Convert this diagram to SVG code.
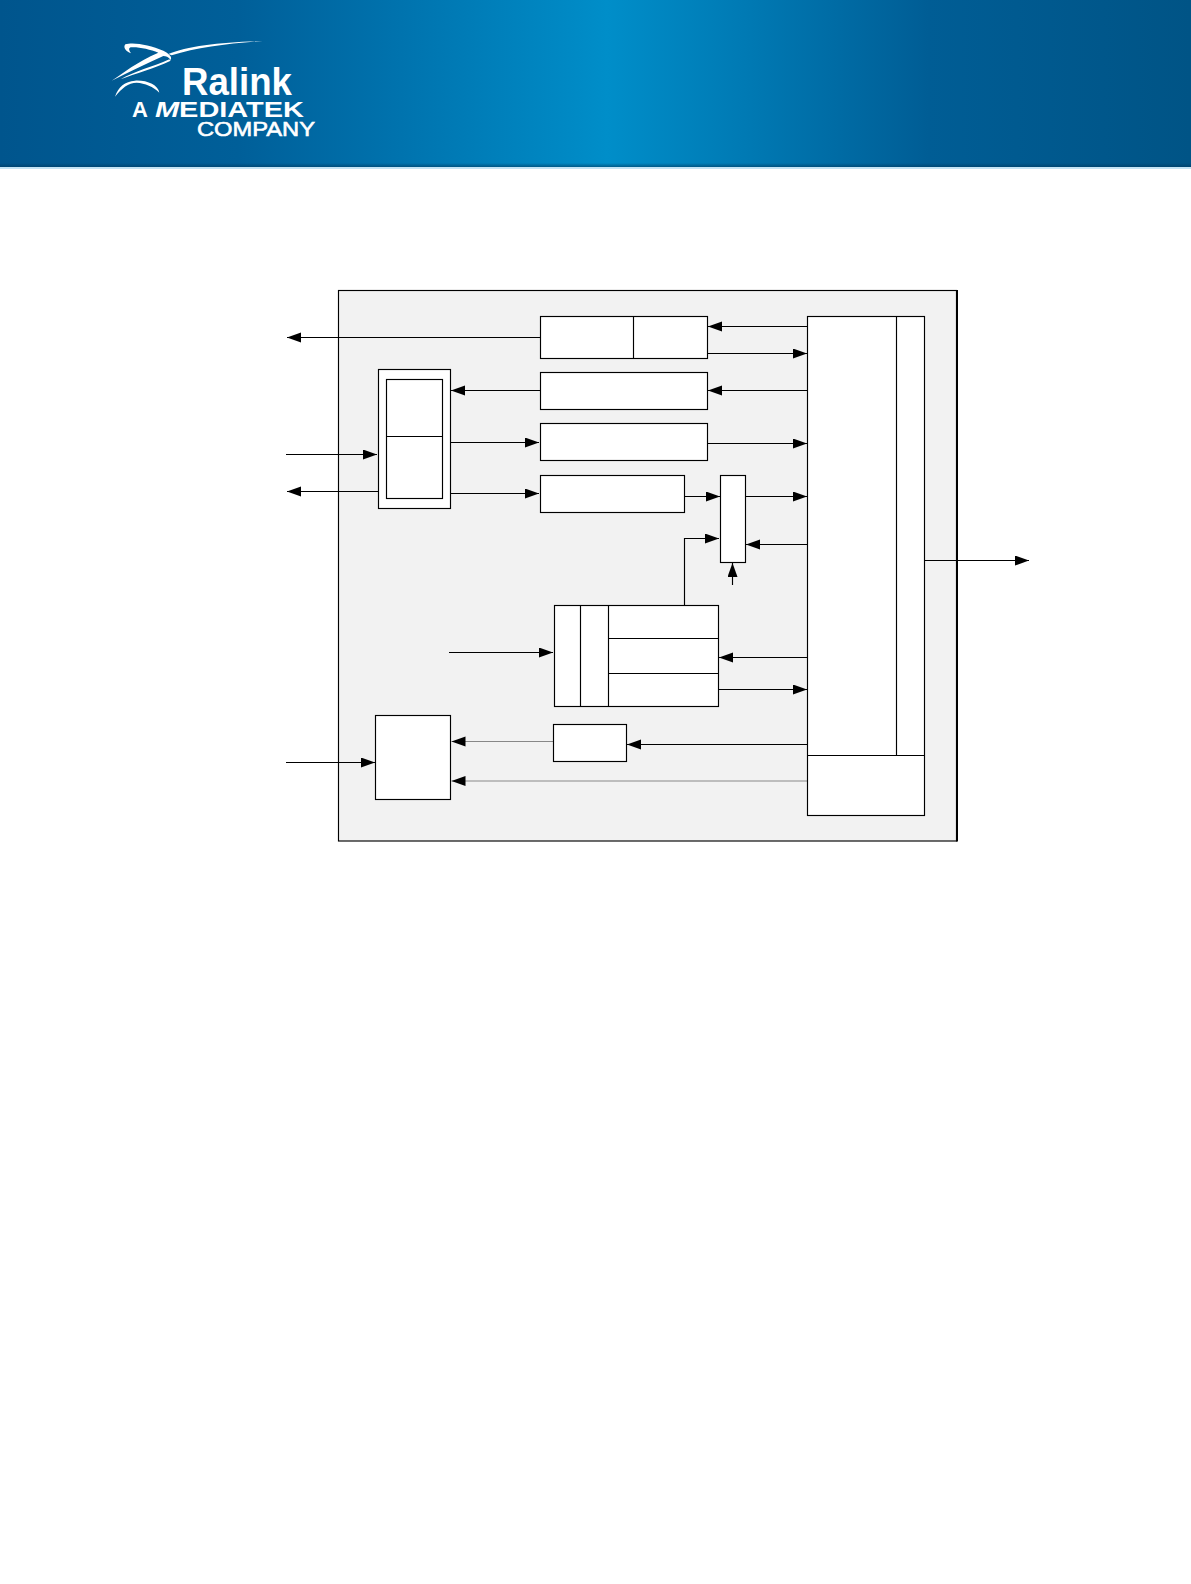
<svg xmlns="http://www.w3.org/2000/svg" width="1191" height="1584" viewBox="0 0 1191 1584">
<style>
.box{fill:#fff;stroke:#000;stroke-width:1.15}
.div{fill:none;stroke:#000;stroke-width:1.15}
.c{fill:none;stroke:#000;stroke-width:1.15;marker-end:url(#ah)}
.g{fill:none;stroke:#888;stroke-width:1.15;marker-end:url(#ah)}
.logo{fill:#fff;font-family:"Liberation Sans",Arial,sans-serif;font-weight:700}
</style>
<defs>
<marker id="ah" markerUnits="userSpaceOnUse" markerWidth="15" markerHeight="11" refX="14" refY="5" orient="auto"><path d="M0,0L14,5L0,10Z" fill="#000"/></marker>
<linearGradient id="hdr" x1="0" x2="1" y1="0" y2="0">
<stop offset="0" stop-color="#00558d"/><stop offset=".2" stop-color="#005f99"/><stop offset=".33" stop-color="#0072ad"/><stop offset=".51" stop-color="#008ec9"/><stop offset=".63" stop-color="#0079b3"/><stop offset=".78" stop-color="#005d95"/><stop offset="1" stop-color="#005486"/>
</linearGradient>
<linearGradient id="edge" x1="0" x2="0" y1="0" y2="1"><stop offset="0" stop-color="#003a60" stop-opacity="0"/><stop offset="1" stop-color="#003a60" stop-opacity=".6"/></linearGradient>
</defs>
<g id="header">
<rect x="0" y="0" width="1191" height="167" fill="url(#hdr)"/>
<rect x="0" y="163" width="1191" height="4" fill="url(#edge)"/>
<rect x="0" y="167" width="1191" height="2" fill="#c4e4f5"/>
</g>
<g id="logo">
<g transform="translate(100,30) scale(.3333)" fill="#fff">
<path d="M35,152C70,130 110,95 175,68C150,58 115,50 92,52C84,55 88,63 93,70C78,65 68,52 76,43C100,35 150,45 190,62C205,70 218,80 212,90C205,80 198,78 190,78C140,100 90,125 35,152Z"/>
<path d="M205,72C260,48 370,36 488,33C390,40 290,52 215,76Z"/>
<path d="M62,148C100,125 160,110 208,88L212,92C165,115 105,130 62,148Z"/>
<path d="M45,200C55,170 75,155 105,152C140,150 175,165 178,188C160,170 135,160 110,158C85,158 65,175 45,200Z"/>
</g>
<text class="logo" x="182" y="95" font-size="39" textLength="110" lengthAdjust="spacingAndGlyphs">Ralink</text>
<text class="logo" x="132" y="117" font-size="22">A</text>
<text class="logo" x="155" y="117" font-size="22" textLength="149" lengthAdjust="spacingAndGlyphs"><tspan font-style="italic">M</tspan>EDIATEK</text>
<text class="logo" x="197" y="136" font-size="21" textLength="118" lengthAdjust="spacingAndGlyphs" style="font-weight:400;stroke:#fff;stroke-width:.6">COMPANY</text>
</g>
<g id="chip"><rect x="338.5" y="290.5" width="618" height="550.5" fill="#f2f2f2" stroke="#000" stroke-width="1.15"/><path d="M957,290V841.5" stroke="#000" stroke-width="2" fill="none"/></g>
<g id="connectors">
<path class="c" d="M540,337.5H287"/>
<path class="c" d="M807,326.5H708"/>
<path class="c" d="M707.5,353.5H807"/>
<path class="c" d="M807,390.5H708"/>
<path class="c" d="M540,390.5H451"/>
<path class="c" d="M450.5,442.5H539"/>
<path class="c" d="M707.5,443.5H807"/>
<path class="c" d="M286,454.5H377"/>
<path class="c" d="M378,491.5H287"/>
<path class="c" d="M450.5,493.5H539"/>
<path class="c" d="M684.5,496.5H720"/>
<path class="c" d="M745.5,496.5H807"/>
<path class="c" d="M807,544.5H746"/>
<path class="c" d="M684.5,605V538.5H719"/>
<path class="c" d="M732.5,585V563"/>
<path class="c" d="M924.5,560.5H1029"/>
<path class="c" d="M449,652.5H553"/>
<path class="c" d="M807,657.5H719"/>
<path class="c" d="M718.5,689.5H807"/>
<path class="c" d="M807,744.5H627"/>
<path class="g" d="M553,741.5H451.5"/>
<path class="g" d="M807,781H451.5"/>
<path class="c" d="M286,762.5H375"/>
</g>
<g id="node-a"><rect class="box" x="540.5" y="316.5" width="167" height="42"/><path class="div" d="M633.5,316.5V358.5"/></g>
<g id="node-b"><rect class="box" x="540.5" y="372.5" width="167" height="37"/></g>
<g id="node-c"><rect class="box" x="540.5" y="423.5" width="167" height="37"/></g>
<g id="node-d"><rect class="box" x="540.5" y="475.5" width="144" height="37"/></g>
<g id="node-left"><rect class="box" x="378.5" y="369.5" width="72" height="139"/><rect class="box" x="386.5" y="379.5" width="56" height="119"/><path class="div" d="M386.5,436.5H442.5"/></g>
<g id="node-mux"><rect class="box" x="720.5" y="475.5" width="25" height="87"/></g>
<g id="node-right"><rect class="box" x="807.5" y="316.5" width="117" height="499"/><path class="div" d="M896.5,316.5V755.5M807.5,755.5H924.5"/></g>
<g id="node-mid"><rect class="box" x="554.5" y="605.5" width="164" height="101"/><path class="div" d="M580.5,605.5V706.5M608.5,605.5V706.5M608.5,638.5H718.5M608.5,673.5H718.5"/></g>
<g id="node-small"><rect class="box" x="553.5" y="724.5" width="73" height="37"/></g>
<g id="node-bl"><rect class="box" x="375.5" y="715.5" width="75" height="84"/></g>
</svg>
